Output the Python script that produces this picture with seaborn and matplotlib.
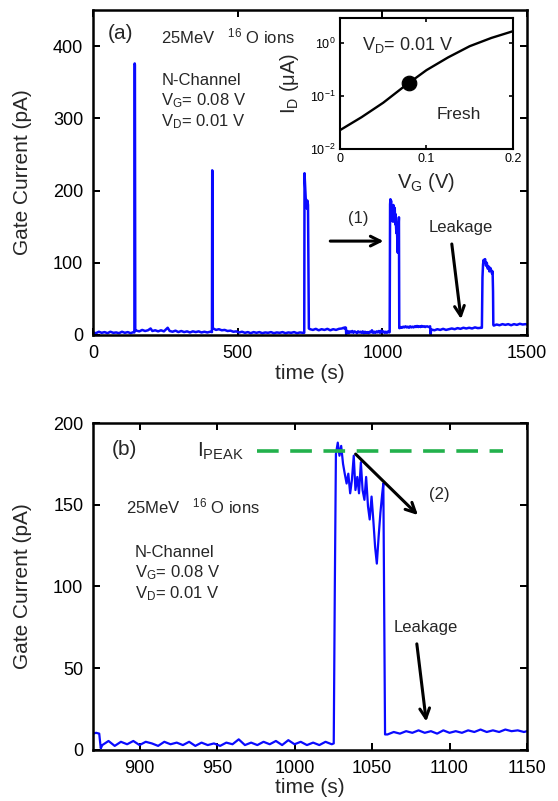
import numpy as np
import pandas as pd
import matplotlib
matplotlib.use("Agg")
import matplotlib.pyplot as plt
import seaborn as sns

# ---------------- gate-current trace (time in s, current in pA) ----------------
# before the first ion strike
t_pre = [0, 10, 20, 30, 40, 50, 60, 70, 80, 90, 100, 110, 120, 130, 140, 143]
i_pre = [3.5, 2.5, 4.5, 3, 4, 2.5, 4.5, 3, 3.5, 2.5, 4.5, 3, 4, 2.5, 4, 3.5]
# strike 1
t_s1 = [144, 144.8, 146]
i_s1 = [376, 374, 6]
t_b1 = [150, 160, 170, 180, 190, 199, 205, 215, 225, 235, 245, 258, 265, 275,
        285, 295, 305, 315, 325, 335, 345, 355, 365, 375, 385, 395, 405, 411]
i_b1 = [6, 5, 7, 5.5, 6.5, 9, 5.5, 6.5, 5, 6.5, 5, 10, 5.5, 4.5,
        6, 4, 5.5, 4, 5, 3.5, 5, 4, 5, 3.5, 4.5, 3.5, 4.5, 4]
# strike 2
t_s2 = [412, 413, 414]
i_s2 = [228, 226, 9]
t_b2 = [418, 425, 435, 445, 455, 465, 475, 485, 495, 505, 515, 525, 535, 545,
        555, 565, 575, 585, 595, 605, 615, 625, 635, 645, 655, 665, 675, 685,
        695, 705, 715, 725, 730]
i_b2 = [8.5, 7, 8, 6.5, 7, 5.5, 6, 4.5, 5, 3.5, 4.5, 3, 4, 2.5,
        4, 3, 4, 2.5, 3.5, 3, 4, 2.5, 3.5, 3, 4, 2.5, 3.5, 3,
        4, 2.5, 3.5, 3, 3]
# strike 3
t_s3 = [731, 732, 735, 737, 739, 741, 743, 745, 746]
i_s3 = [224, 215, 190, 185, 175, 186, 180, 60, 9]
t_b3 = [750, 760, 770, 780, 790, 800, 810, 820, 830, 840, 850, 860, 866, 869]
i_b3 = [8, 7, 8.5, 6.5, 8, 7, 8.5, 6.5, 8, 7, 8.5, 9, 10, 9]
# detailed record around strike 4
t_b4 = [870, 872, 874, 875, 876, 880, 884, 888, 892, 896, 900, 904, 908, 912,
        916, 920, 924, 928, 932, 936, 940, 944, 948, 952, 956, 960, 964, 968,
        972, 976, 980, 984, 988, 992, 996, 1000, 1004, 1008, 1012, 1016, 1020,
        1024]
i_b4 = [10, 10.5, 10, 1, 3, 5.5, 2.5, 5, 3.5, 5.5, 3, 5, 4, 2.5,
        5, 3.5, 4.5, 3, 5, 2.5, 4.5, 3, 4, 2.5, 4.5, 3.5, 6.5, 3,
        4.5, 3, 5, 3.5, 5.5, 3, 6, 3.5, 5, 3, 4.5, 3, 5,
        3.5]
t_s4 = [1025.3, 1026.0, 1026.7, 1027.9, 1029.0, 1030.1, 1031.3, 1032.4, 1033.6,
        1034.7, 1035.9, 1037.0, 1038.2, 1039.3, 1040.5, 1041.6, 1042.8, 1043.9,
        1045.1, 1046.2, 1047.4, 1048.5, 1049.7, 1050.8, 1052.0, 1053.1, 1054.3,
        1055.4, 1056.6, 1057.3, 1058.0, 1058.4]
i_s4 = [4, 100, 181, 188, 180, 186, 175, 169, 163,
        169, 157, 165, 180, 159, 167, 157, 176, 159,
        153, 167, 149, 141, 155, 141, 124, 114, 131,
        145, 157, 163, 60, 9.5]
t_b5 = [1060, 1064, 1068, 1072, 1076, 1080, 1084, 1088, 1092, 1096, 1100, 1104,
        1108, 1112, 1116, 1120, 1124, 1128, 1132, 1136, 1140, 1144, 1148, 1150,
        1155, 1160, 1165, 1167, 1168, 1170, 1180, 1190, 1200, 1210, 1220, 1230,
        1240, 1250, 1260, 1270, 1280, 1290, 1300, 1310, 1320, 1330, 1340, 1343]
i_b5 = [9.5, 11, 10, 11.5, 10.5, 12, 10.5, 11.5, 10, 12, 10.5, 11.5,
        10.5, 12, 11, 12.5, 11, 12, 11, 12.5, 11.5, 12, 11, 11.5,
        12, 11, 12, 1, 6, 7.5, 6.5, 8, 7, 8.5, 7, 8,
        9, 8, 9.5, 8.5, 10, 9, 10, 9, 10.5, 9.5, 10, 10]
# strike 5
t_s5 = [1344, 1346, 1348, 1350, 1352, 1355, 1358, 1361, 1364, 1367, 1370, 1373,
        1376, 1379, 1381, 1382.5, 1383.5]
i_s5 = [10, 80, 98, 104, 101, 105, 96, 100, 92, 95, 88, 93,
        90, 85, 88, 60, 14]
t_b6 = [1385, 1395, 1405, 1415, 1425, 1435, 1445, 1455, 1465, 1475, 1485, 1495, 1500]
i_b6 = [13, 14.5, 13.5, 15, 14, 15, 13.5, 15, 14, 15.5, 14.5, 15, 14.5]

# peak level marked in panel (b)
i_peak = 183

# ---------------- fresh-device transfer curve (inset) ----------------
vg_fresh = [0, 0.025, 0.05, 0.075, 0.1, 0.125, 0.15, 0.175, 0.2]
id_fresh = [0.0227, 0.040, 0.075, 0.156, 0.31, 0.54, 0.88, 1.26, 1.69]
vg_bias = 0.08
vd_bias = 0.01

# ---------------- assemble trace ----------------
t_all = (t_pre + t_s1 + t_b1 + t_s2 + t_b2 + t_s3 + t_b3 + t_b4 + t_s4
         + t_b5 + t_s5 + t_b6)
i_all = (i_pre + i_s1 + i_b1 + i_s2 + i_b2 + i_s3 + i_b3 + i_b4 + i_s4
         + i_b5 + i_s5 + i_b6)
trace = pd.DataFrame({"time": t_all, "current": i_all})
fresh = pd.DataFrame({"vg": vg_fresh, "id": id_fresh})
id_bias = 10 ** np.interp(vg_bias, vg_fresh, np.log10(id_fresh))
op_point = pd.DataFrame({"vg": [vg_bias], "id": [id_bias]})

# ---------------- style ----------------
sns.set_style("ticks")
plt.rcParams["font.family"] = ["Liberation Sans", "DejaVu Sans"]
plt.rcParams["mathtext.fontset"] = "custom"
plt.rcParams["mathtext.rm"] = "Liberation Sans"
plt.rcParams["mathtext.it"] = "Liberation Sans:italic"
plt.rcParams["mathtext.default"] = "regular"

BLUE = "#0a0aff"
GREEN = "#22b14c"
ANN = 12
ARROW = dict(arrowstyle="->,head_length=0.7,head_width=0.35",
             lw=2.2, color="black", shrinkA=0, shrinkB=0)

fig = plt.figure(figsize=(5.58, 8.01), dpi=100)
ax_a = fig.add_axes([0.1667, 0.5818, 0.7778, 0.4057])
ax_b = fig.add_axes([0.1667, 0.0637, 0.7778, 0.4082])
ax_in = fig.add_axes([0.6093, 0.814, 0.310, 0.1635])


def frame(ax, lw=1.8, size=13, pad=7, length=5):
    for s in ax.spines.values():
        s.set_linewidth(lw)
        s.set_color("black")
    ax.tick_params(direction="in", top=True, right=True, width=lw * 0.8,
                   length=length, labelsize=size, pad=pad, colors="black")


# ---------------- panel (a) ----------------
sns.lineplot(data=trace, x="time", y="current", ax=ax_a, color=BLUE,
             lw=1.8, sort=False, estimator=None)
ax_a.set_xlim(0, 1500)
ax_a.set_ylim(0, 450)
ax_a.set_xticks([0, 500, 1000, 1500])
ax_a.set_yticks([0, 100, 200, 300, 400])
frame(ax_a)
ax_a.set_xlabel("time (s)", fontsize=15)
ax_a.set_ylabel("Gate Current (pA)", fontsize=15)
ax_a.yaxis.set_label_coords(-0.14, 0.5)
ax_a.xaxis.set_label_coords(0.5, -0.09)

ax_a.text(52, 418, "(a)", fontsize=15, ha="left", va="center")
ax_a.text(236, 414, r"25MeV   $^{16}$ O ions", fontsize=ANN, ha="left", va="center")
ax_a.text(236, 353, "N-Channel", fontsize=ANN, ha="left", va="center")
ax_a.text(236, 325, r"V$_\mathregular{G}$= %.2f V" % vg_bias, fontsize=ANN,
          ha="left", va="center")
ax_a.text(236, 295, r"V$_\mathregular{D}$= %.2f V" % vd_bias, fontsize=ANN,
          ha="left", va="center")
ax_a.text(918, 161, "(1)", fontsize=ANN, ha="center", va="center")
ax_a.annotate("", xy=(1004, 130), xytext=(820, 130), arrowprops=ARROW)
ax_a.text(1272, 149.5, "Leakage", fontsize=ANN, ha="center", va="center")
ax_a.annotate("", xy=(1272, 22), xytext=(1240, 126), arrowprops=ARROW)

# ---------------- inset: fresh I-V ----------------
sns.lineplot(data=fresh, x="vg", y="id", ax=ax_in, color="black", lw=1.7,
             sort=False, estimator=None)
sns.scatterplot(data=op_point, x="vg", y="id", ax=ax_in, color="black",
                s=110, edgecolor="black", zorder=5)
ax_in.set_yscale("log")
ax_in.set_xlim(0, 0.2)
ax_in.set_ylim(1e-2, 3.0)
ax_in.set_xticks([0, 0.1, 0.2])
ax_in.set_xticklabels(["0", "0.1", "0.2"])
ax_in.set_yticks([1e-2, 1e-1, 1e0])
ax_in.set_yticklabels([r"10$^{-2}$", r"10$^{-1}$", r"10$^{0}$"])
ax_in.yaxis.set_minor_locator(matplotlib.ticker.NullLocator())
frame(ax_in, lw=1.5, size=9, pad=3, length=3)
ax_in.set_xlabel(r"V$_\mathregular{G}$ (V)", fontsize=14.5)
ax_in.set_ylabel(r"I$_\mathregular{D}$ ($\mu$A)", fontsize=14.5)
ax_in.yaxis.set_label_coords(-0.225, 0.5)
ax_in.xaxis.set_label_coords(0.5, -0.17)
ax_in.text(0.025, 0.94, r"V$_\mathregular{D}$= %.2f V" % vd_bias, fontsize=13,
           ha="left", va="center")
ax_in.text(0.1123, 0.044, "Fresh", fontsize=12.5, ha="left", va="center")

# ---------------- panel (b) ----------------
sns.lineplot(data=trace, x="time", y="current", ax=ax_b, color=BLUE,
             lw=1.6, sort=False, estimator=None)
ax_b.plot([976, 1134.7], [i_peak, i_peak], color=GREEN, lw=2.6,
          dashes=(6, 3.2))
ax_b.set_xlim(870, 1150)
ax_b.set_ylim(0, 200)
ax_b.set_xticks([900, 950, 1000, 1050, 1100, 1150])
ax_b.set_yticks([0, 50, 100, 150, 200])
frame(ax_b)
ax_b.set_xlabel("time (s)", fontsize=15)
ax_b.set_ylabel("Gate Current (pA)", fontsize=15)
ax_b.yaxis.set_label_coords(-0.14, 0.5)
ax_b.xaxis.set_label_coords(0.5, -0.085)

ax_b.text(882, 183.6, "(b)", fontsize=15, ha="left", va="center")
ax_b.text(937, 182.6, r"I$_\mathregular{PEAK}$", fontsize=15, ha="left", va="center")
ax_b.annotate("", xy=(1079.6, 143.7), xytext=(1039.4, 181), arrowprops=ARROW)
ax_b.text(1093.4, 156, "(2)", fontsize=ANN, ha="center", va="center")
ax_b.text(891, 149.2, r"25MeV   $^{16}$ O ions", fontsize=ANN, ha="left", va="center")
ax_b.text(896.9, 120.8, "N-Channel", fontsize=ANN, ha="left", va="center")
ax_b.text(896.9, 108.3, r"V$_\mathregular{G}$= %.2f V" % vg_bias, fontsize=ANN,
          ha="left", va="center")
ax_b.text(896.9, 95.6, r"V$_\mathregular{D}$= %.2f V" % vd_bias, fontsize=ANN,
          ha="left", va="center")
ax_b.text(1084.9, 74.7, "Leakage", fontsize=ANN, ha="center", va="center")
ax_b.annotate("", xy=(1085, 17.4), xytext=(1078.9, 64.9), arrowprops=ARROW)

fig.savefig("out.png", dpi=100)
